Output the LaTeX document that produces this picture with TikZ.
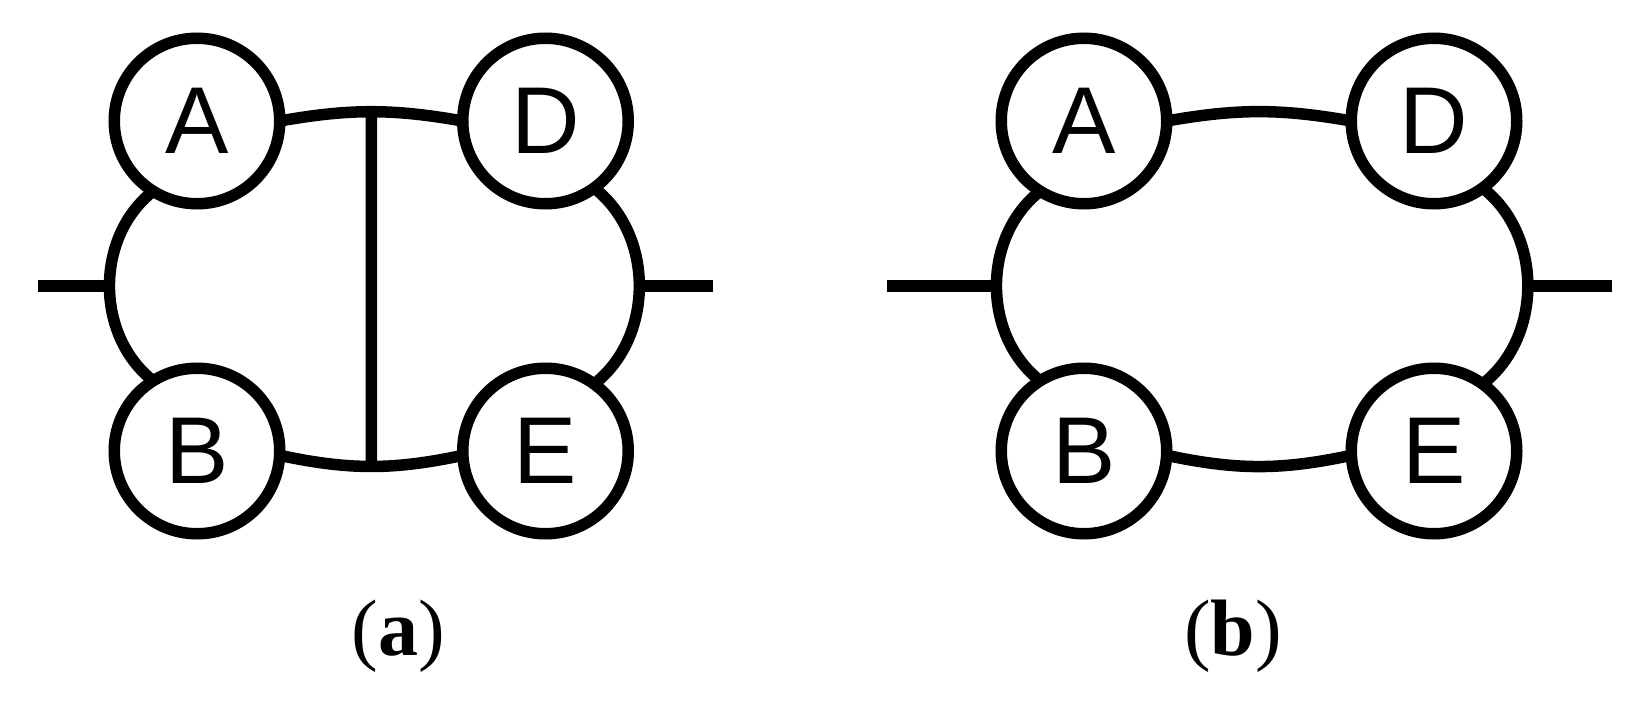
\documentclass[tikz,border=0pt]{standalone}
\usepackage{fontspec}
\setmainfont{Liberation Serif}
\newfontfamily\circfont{Liberation Sans}
\begin{document}
\begin{tikzpicture}[x=0.5pt,y=-0.5pt,
  lw/.style={line width=5.75pt},
  vtx/.style={circle,draw,lw,minimum size=82.75pt,inner sep=0pt,outer sep=0pt,
    font=\circfont\fontsize{47.5pt}{47.5pt}\selectfont},
  wire/.style={lw},
  captxt/.style={font=\fontsize{40pt}{40pt}\selectfont,anchor=base,inner sep=0pt}]
\useasboundingbox (0,0) rectangle (1635,701);
% ---------- panel (a)
\node[vtx] (aA) at (197,121) {A};
\node[vtx] (aB) at (197,451) {B};
\node[vtx] (aD) at (545.5,121) {D};
\node[vtx] (aE) at (545.5,451) {E};
\coordinate (aLend) at (38,286);
\coordinate (aRend) at (713,286);
\draw[wire] (aA.238) to[bend right=52] coordinate[midway] (aL) (aB.122);
\draw[wire] (aD.-54) to[bend left=52] coordinate[midway] (aR) (aE.54);
\draw[wire] (aA.east) to[bend left=10] coordinate[midway] (aT) (aD.west);
\draw[wire] (aB.-3) to[bend right=12] coordinate[midway] (aM) (aE.-177);
\draw[wire] (aT) -- (aM);
\draw[wire] (aL) -- (aL -| aLend);
\draw[wire] (aR) -- (aR -| aRend);
% ---------- panel (b)
\node[vtx] (bA) at (1084,121) {A};
\node[vtx] (bB) at (1084,451) {B};
\node[vtx] (bD) at (1434,121) {D};
\node[vtx] (bE) at (1434,451) {E};
\coordinate (bLend) at (887,286);
\coordinate (bRend) at (1612,286);
\draw[wire] (bA.238) to[bend right=52] coordinate[midway] (bL) (bB.122);
\draw[wire] (bD.-54) to[bend left=52] coordinate[midway] (bR) (bE.54);
\draw[wire] (bA.east) to[bend left=10] (bD.west);
\draw[wire] (bB.-3) to[bend right=12] (bE.-177);
\draw[wire] (bL) -- (bL -| bLend);
\draw[wire] (bR) -- (bR -| bRend);
% ---------- captions
\node[captxt] (la) at (398.5,655) {(\textbf{a})};
\node[captxt] (lb) at (1233,655) {(\textbf{b})};
\end{tikzpicture}
\end{document}
